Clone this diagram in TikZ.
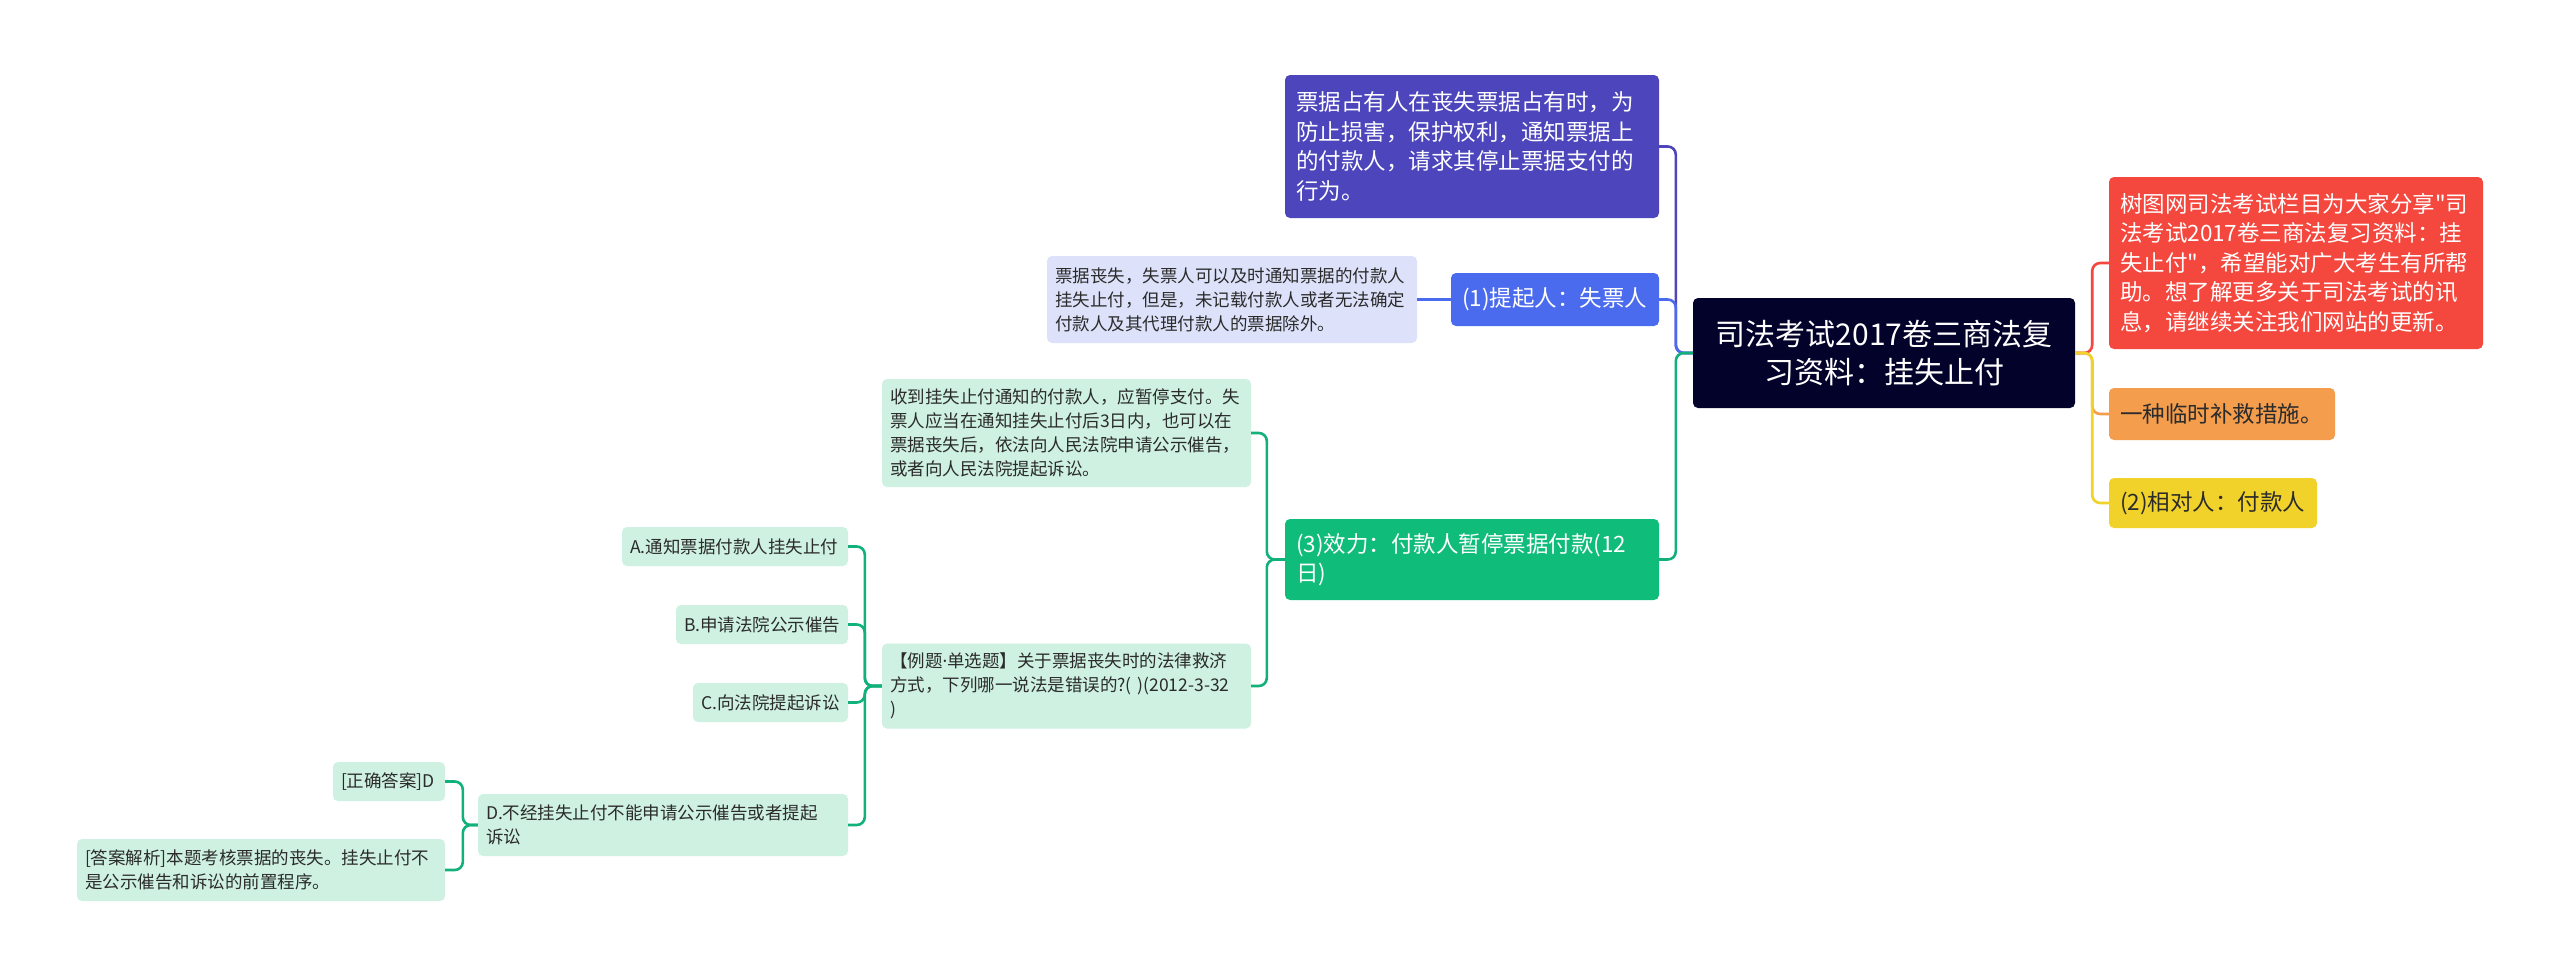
\documentclass[tikz,border=0pt]{standalone}
\usepackage{fontspec}
\setmainfont{Noto Sans CJK SC}
\newfontfamily\latinfont{Noto Sans}
\newcommand\dq{\XeTeXglyph\the\XeTeXcharglyph"22\relax}
\definecolor{rootc}{HTML}{02022A}
\definecolor{redc}{HTML}{F4473E}
\definecolor{orangec}{HTML}{F39D4D}
\definecolor{yellowc}{HTML}{F1D22A}
\definecolor{purplec}{HTML}{4C45BB}
\definecolor{bluec}{HTML}{4B6BEE}
\definecolor{lbluec}{HTML}{DDE2FA}
\definecolor{greenc}{HTML}{10BC7A}
\definecolor{lgreenc}{HTML}{CEF1E1}
\definecolor{linegreen}{HTML}{12B07A}
\definecolor{darktext}{HTML}{2B2B2B}
\begin{document}
\begin{tikzpicture}[x=1pt,y=-1pt,
  box/.style={rounded corners=5pt, inner xsep=0pt, inner ysep=0pt, align=left, anchor=center},
  big/.style={box, text=white, font=\fontsize{22.5}{29.5}\selectfont},
  bigdark/.style={box, text=darktext, font=\fontsize{22.5}{29.5}\selectfont},
  small/.style={box, text=darktext, font=\fontsize{17.5}{24}\selectfont},
  conn/.style={line width=2.6pt, rounded corners=8pt}]
\useasboundingbox (0,0) rectangle (2560,977);
\fill[white] (0,0) rectangle (2560,977);

% root
\node[box, fill=rootc, text=white, align=center, font=\fontsize{30}{38.5}\selectfont,
  minimum width=382pt, minimum height=110pt, text width=370pt] (root) at (1884,353)
  {司法考试2017卷三商法复\\习资料：挂失止付};

% right side
\node[big, fill=redc, minimum width=374pt, minimum height=172pt, text width=352pt] (red) at (2296,263)
  {树图网司法考试栏目为大家分享\dq 司\\法考试2017卷三商法复习资料：挂\\失止付\dq ，希望能对广大考生有所帮\\助。想了解更多关于司法考试的讯\\息，请继续关注我们网站的更新。};
\node[bigdark, fill=orangec, minimum width=226pt, minimum height=52pt, text width=204pt] (orange) at (2222,414)
  {一种临时补救措施。};
\node[bigdark, fill=yellowc, minimum width=208pt, minimum height=50pt, text width=186pt] (yellow) at (2213,503)
  {(2)相对人：付款人};

% left side
\node[big, fill=purplec, minimum width=374pt, minimum height=143pt, text width=352pt] (purple) at (1472,146.5)
  {票据占有人在丧失票据占有时，为\\防止损害，保护权利，通知票据上\\的付款人，请求其停止票据支付的\\行为。};
\node[big, fill=bluec, minimum width=208pt, minimum height=53pt, text width=186pt] (p1) at (1555,299.5)
  {(1)提起人：失票人};
\node[small, fill=lbluec, minimum width=370pt, minimum height=87pt, text width=354pt] (bnote) at (1232,299.5)
  {票据丧失，失票人可以及时通知票据的付款人\\挂失止付，但是，未记载付款人或者无法确定\\付款人及其代理付款人的票据除外。};
\node[big, fill=greenc, minimum width=374pt, minimum height=81pt, text width=352pt] (p3) at (1472,559.5)
  {(3)效力：付款人暂停票据付款(12\\日)};
\node[small, fill=lgreenc, minimum width=369pt, minimum height=108pt, text width=353pt] (gnote) at (1066.5,433)
  {收到挂失止付通知的付款人，应暂停支付。失\\票人应当在通知挂失止付后3日内，也可以在\\票据丧失后，依法向人民法院申请公示催告，\\或者向人民法院提起诉讼。};
\node[small, fill=lgreenc, minimum width=369pt, minimum height=85pt, text width=353pt] (ex) at (1066.5,686)
  {【例题{\latinfont ·}单选题】关于票据丧失时的法律救济\\方式，下列哪一说法是错误的?(~)(2012-3-32\\)};
\node[small, fill=lgreenc, minimum width=226pt, minimum height=39pt, text width=210pt] (A) at (735,546.5)
  {A.通知票据付款人挂失止付};
\node[small, fill=lgreenc, minimum width=172pt, minimum height=39pt, text width=156pt] (B) at (762,624.5)
  {B.申请法院公示催告};
\node[small, fill=lgreenc, minimum width=155pt, minimum height=39pt, text width=139pt] (C) at (770.5,702.5)
  {C.向法院提起诉讼};
\node[small, fill=lgreenc, minimum width=370pt, minimum height=62pt, text width=354pt] (D) at (663,825)
  {D.不经挂失止付不能申请公示催告或者提起\\诉讼};
\node[small, fill=lgreenc, minimum width=112pt, minimum height=39pt, text width=96pt] (ok) at (389,781.5)
  {[正确答案]D};
\node[small, fill=lgreenc, minimum width=368pt, minimum height=62pt, text width=352pt] (ans) at (261,870)
  {[答案解析]本题考核票据的丧失。挂失止付不\\是公示催告和诉讼的前置程序。};

% connectors right
\draw[conn, redc] (root.east) -- ++(17,0) |- (red.west);
\draw[conn, orangec] (root.east) -- ++(17,0) |- (orange.west);
\draw[conn, yellowc] (root.east) -- ++(17,0) |- (yellow.west);

% connectors left
\draw[conn, purplec] (root.west) -- ++(-17,0) |- (purple.east);
\draw[conn, bluec] (root.west) -- ++(-17,0) |- (p1.east);
\draw[conn, linegreen] (root.west) -- ++(-17,0) |- (p3.east);
\draw[conn, bluec] (p1.west) -- (bnote.east);
\draw[conn, linegreen] (p3.west) -- ++(-18,0) |- (gnote.east);
\draw[conn, linegreen] (p3.west) -- ++(-18,0) |- (ex.east);
\draw[conn, linegreen] (ex.west) -- ++(-17,0) |- (A.east);
\draw[conn, linegreen] (ex.west) -- ++(-17,0) |- (B.east);
\draw[conn, linegreen] (ex.west) -- ++(-17,0) |- (C.east);
\draw[conn, linegreen] (ex.west) -- ++(-17,0) |- (D.east);
\draw[conn, linegreen] (D.west) -- ++(-15,0) |- (ok.east);
\draw[conn, linegreen] (D.west) -- ++(-15,0) |- (ans.east);
\end{tikzpicture}
\end{document}
